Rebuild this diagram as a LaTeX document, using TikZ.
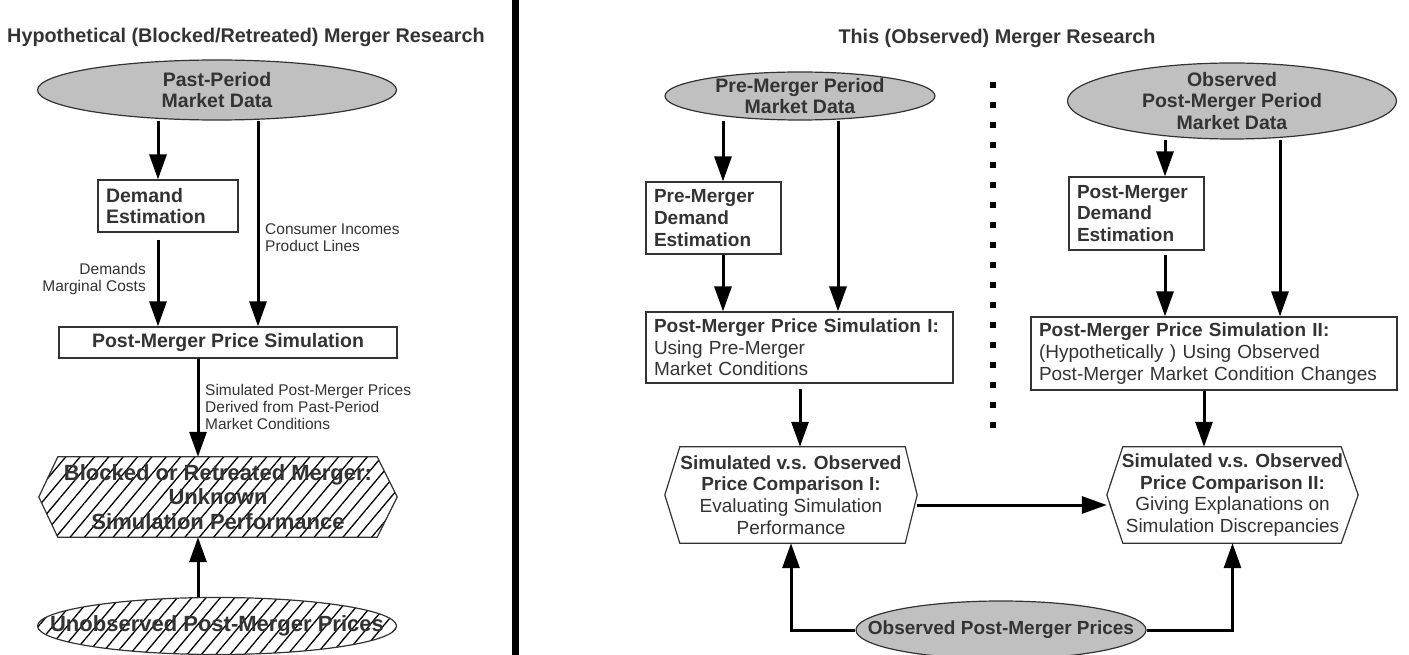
\documentclass[tikz,border=0pt]{standalone}
\usepackage{fontspec}
\setmainfont{Liberation Sans}
\usetikzlibrary{arrows.meta,shapes.geometric,patterns.meta,calc}
\definecolor{txt}{HTML}{333333}
\definecolor{fillgray}{HTML}{C0C0C0}
\pgfdeclarelayer{background}
\pgfsetlayers{background,main}
\begin{document}
\begin{tikzpicture}[x=1pt,y=-1pt,
  ttl/.style={font=\fontsize{19.8}{22}\selectfont\bfseries, text=txt, inner sep=0pt},
  lab/.style={font=\fontsize{15.5}{17}\selectfont, text=txt, inner sep=0pt},
  ell/.style={ellipse, draw=txt, line width=1.2pt, fill=fillgray, inner sep=0pt},
  ellt/.style={align=center, text=txt, inner sep=0pt, font=\fontsize{19.5}{21.5}\selectfont\bfseries},
  hatch/.style={pattern={Lines[angle=50,distance=11pt,line width=1.3pt]}, pattern color=black},
  boxl/.style={draw=txt, line width=1.2pt, fill=white, inner xsep=8pt, inner ysep=0pt, align=left, text=txt},
  bbig/.style={font=\fontsize{19.5}{21.5}\selectfont\bfseries},
  bsm/.style={font=\fontsize{19}{21.6}\selectfont\bfseries},
  rsm/.style={font=\fontsize{19}{21.6}\selectfont},
  hexn/.style={inner sep=0pt, align=center, text=txt},
  hexline/.style={draw=txt, line width=1.2pt},
  arr/.style={draw=black, line width=3pt, -{Triangle[length=25pt,width=17pt]}},
  sepline/.style={draw=black, line width=7pt},
  dotline/.style={draw=black, line width=6pt, dash pattern=on 6pt off 14pt}
]
\useasboundingbox (0,0) rectangle (1409,655);

% separator and dotted divider
\coordinate (s1) at (515.5,0);
\coordinate (s2) at (515.5,655);
\draw[sepline] (s1) -- (s2);
\coordinate (d1) at (993,82);
\coordinate (d2) at (993,428);
\draw[dotline] (d1) -- (d2);

% titles
\node[ttl] (ttlL) at (246,37) {Hypothetical (Blocked/Retreated) Merger Research};
\node[ttl] (ttlR) at (997,38) {This (Observed) Merger Research};

% ---------------- left panel ----------------
\node[ell, minimum width=359pt, minimum height=60pt,
  label={[ellt]center:Past-Period\\Market Data}] (pp) at (217,90) {};
\node[boxl, bbig, text width=124pt, minimum height=52pt] (de) at (168,206) {Demand\\Estimation};
\node[boxl, bbig, align=center, minimum width=338pt, minimum height=31pt] (pms) at (228,342.5) {Post-Merger Price Simulation};
\node[hexn, font=\fontsize{22}{24.5}\selectfont\bfseries, minimum width=358pt, minimum height=80pt] (hexL) at (218,497)
  {Blocked or Retreated Merger:\\Unknown\\Simulation Performance};
\node[ellipse, draw=txt, line width=1.2pt, hatch, inner sep=0pt, minimum width=359pt, minimum height=57pt,
  label={[hexn, font=\fontsize{22}{24.5}\selectfont\bfseries]center:Unobserved Post-Merger Prices}] (unobs) at (217,626) {};

\node[lab, align=right, anchor=north east] (labA) at (146,263) {Demands\\Marginal Costs};
\node[lab, align=left, anchor=north west] (labB) at (265,223) {Consumer Incomes\\Product Lines};
\node[lab, align=left, anchor=north west] (labC) at (205,384) {Simulated Post-Merger Prices\\Derived from Past-Period\\Market Conditions};

\draw[arr] ([xshift=-10pt]de.north |- pp.south) -- ([xshift=-10pt]de.north);
\draw[arr, shorten <=7pt] ([xshift=-10pt]de.south) -- ([xshift=-10pt]de.south |- pms.north);
\draw[arr] ([xshift=30pt]pms.north |- pp.south) -- ([xshift=30pt]pms.north);
\draw[arr] ([xshift=-30pt]pms.south) -- ([xshift=-30pt]pms.south |- hexL.north);
\draw[arr] ([xshift=-19pt]unobs.north) -- ([xshift=-19pt]unobs.north |- hexL.south);

% ---------------- right panel ----------------
\node[ell, minimum width=270pt, minimum height=48pt,
  label={[ellt]center:Pre-Merger Period\\Market Data}] (preE) at (800,96) {};
\node[boxl, bsm, text width=119pt, minimum height=72pt] (pde) at (713.5,218) {Pre-Merger\\Demand\\Estimation};
\node[boxl, rsm, text width=291pt, minimum height=71pt] (sim1) at (799.5,347.5)
  {\textbf{Post-Merger Price Simulation I:}\\Using Pre-Merger\\Market Conditions};
\node[hexn, rsm, minimum width=252pt, minimum height=96pt] (hex1) at (791,495)
  {\textbf{Simulated v.s. Observed}\\\textbf{Price Comparison I:}\\Evaluating Simulation\\Performance};

\node[ell, minimum width=329pt, minimum height=76pt,
  label={[ellt]center:Observed\\Post-Merger Period\\Market Data}] (oE) at (1232,101) {};
\node[boxl, bsm, text width=119pt, minimum height=73pt] (qde) at (1136.5,213.5) {Post-Merger\\Demand\\Estimation};
\node[boxl, rsm, text width=350pt, minimum height=73pt] (sim2) at (1214,353.5)
  {\textbf{Post-Merger Price Simulation II:}\\(Hypothetically ) Using Observed\\Post-Merger Market Condition Changes};
\node[hexn, rsm, minimum width=251pt, minimum height=96pt] (hex2) at (1232.5,495)
  {\textbf{Simulated v.s. Observed}\\\textbf{Price Comparison II:}\\Giving Explanations on\\Simulation Discrepancies};

\node[ell, minimum width=290pt, minimum height=58pt,
  label={[ellt, font=\fontsize{19}{21.6}\selectfont\bfseries]center:Observed Post-Merger Prices}] (obs) at (1001,630) {};

\draw[arr] ([xshift=9.5pt]pde.north |- preE.south) -- ([xshift=9.5pt]pde.north);
\draw[arr] ([xshift=9.5pt]pde.south) -- ([xshift=9.5pt]pde.south |- sim1.north);
\draw[arr] ([xshift=38.5pt]sim1.north |- preE.south) -- ([xshift=38.5pt]sim1.north);
\draw[arr, shorten <=5pt] ([xshift=0.5pt]sim1.south) -- ([xshift=0.5pt]sim1.south |- hex1.north);

\draw[arr] ([xshift=28.5pt]qde.north |- oE.south) -- ([xshift=28.5pt]qde.north);
\draw[arr, shorten <=4pt] ([xshift=28.5pt]qde.south) -- ([xshift=28.5pt]qde.south |- sim2.north);
\draw[arr] ([xshift=66pt]sim2.north |- oE.south) -- ([xshift=66pt]sim2.north);
\draw[arr] ([xshift=-10pt]sim2.south) -- ([xshift=-10pt]sim2.south |- hex2.north);

\draw[arr] ([yshift=-10pt]hex1.east) -- ([yshift=-10pt]hex2.west);
\draw[arr] (obs.west) -| (hex1.south);
\draw[arr] (obs.east) -| (hex2.south);

% hexagon outlines behind the text
\begin{pgfonlayer}{background}
\path[hexline, hatch] ([xshift=19pt]hexL.north west) -- ([xshift=-20pt]hexL.north east) -- (hexL.east)
  -- ([xshift=-20pt]hexL.south east) -- ([xshift=19pt]hexL.south west) -- (hexL.west) -- cycle;
\path[hexline, fill=white] ([xshift=15pt]hex1.north west) -- ([xshift=-12pt]hex1.north east) -- (hex1.east)
  -- ([xshift=-12pt]hex1.south east) -- ([xshift=15pt]hex1.south west) -- (hex1.west) -- cycle;
\path[hexline, fill=white] ([xshift=16pt]hex2.north west) -- ([xshift=-17pt]hex2.north east) -- (hex2.east)
  -- ([xshift=-17pt]hex2.south east) -- ([xshift=16pt]hex2.south west) -- (hex2.west) -- cycle;
\end{pgfonlayer}
\end{tikzpicture}
\end{document}
